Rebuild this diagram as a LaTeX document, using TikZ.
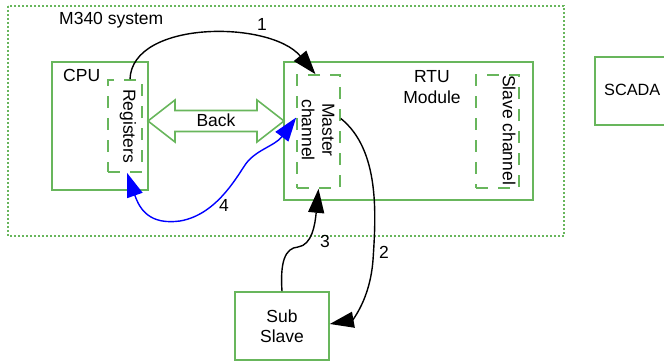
\documentclass[tikz,border=0pt]{standalone}
\usepackage{fontspec}
\setmainfont{Liberation Sans}
\usetikzlibrary{arrows.meta}
\definecolor{boxgreen}{RGB}{104,182,92}
\definecolor{flowblue}{RGB}{0,0,255}
\begin{document}
\begin{tikzpicture}[x=1pt,y=-1pt,
  font=\fontsize{17.5}{20.5}\selectfont,
  solidbox/.style={draw=boxgreen,line width=1.6pt},
  dashbox/.style={draw=boxgreen,line width=1.6pt,dash pattern=on 12pt off 10pt},
  bighead/.tip={Triangle[length=24pt,width=16pt]},
  flow/.style={line width=1.4pt,-bighead},
  lbl/.style={inner sep=0pt}]
\useasboundingbox (0,0) rectangle (664,361);

% system frame
\draw[boxgreen,line width=1.3pt,dash pattern=on 2pt off 2pt] (8,6) rectangle (564,236);
\node[lbl,anchor=west] (sys) at (59,20) {M340 system};

% CPU and its register area
\node[solidbox,minimum width=96pt,minimum height=128pt] (cpu) at (100,126) {};
\node[lbl,anchor=west] (cpul) at (63,75) {CPU};
\node[dashbox,minimum width=34pt,minimum height=92pt] (reg) at (125,126) {};
\node[lbl,rotate=-90] (regl) at (128,126) {Registers};

% RTU module and its channels
\node[solidbox,minimum width=249pt,minimum height=138pt] (rtu) at (408.5,131) {};
\node[lbl,align=center] (rtul) at (432,87) {RTU\\Module};
\node[dashbox,minimum width=43pt,minimum height=113pt] (mc) at (318.5,131.5) {};
\node[lbl,rotate=-90,align=center] (mcl) at (318,130) {Master\\channel};
\node[dashbox,minimum width=43pt,minimum height=113pt] (sc) at (497.5,131.5) {};
\node[lbl,rotate=-90] (scl) at (509,130) {Slave channel};

% external devices
\node[solidbox,minimum width=80pt,minimum height=68pt] (scada) at (635,91) {};
\node[lbl,anchor=west,font=\fontsize{16.3}{19}\selectfont] (scadal) at (604,90) {SCADA};
\node[solidbox,minimum width=94pt,minimum height=68pt,align=center] (sub) at (282,326) {Sub\\Slave};

% backplane double arrow
\draw[boxgreen,line width=1.6pt] (148,121) -- (175,100) -- (175,110.5) -- (257,110.5) -- (257,100)
  -- (284,121) -- (257,142) -- (257,131.5) -- (175,131.5) -- (175,142) -- cycle;
\node[lbl] (back) at (216,120) {Back};

% message flow
\draw[flow] ([xshift=5pt]reg.north) .. controls (132,20) and (270,20) .. ([xshift=-3pt]mc.north);
\node[lbl] (n1) at (262,24) {1};
\draw[flow] ([yshift=13pt]mc.east) .. controls (380,150) and (376,215) .. (373,260)
  .. controls (370,300) and (352,320) .. ([yshift=2pt]sub.east);
\node[lbl] (n2) at (384,252) {2};
\draw[flow] (sub.north) .. controls (280,262) and (285,248) .. (298,247)
  .. controls (312,245) and (315,225) .. (mc.south);
\node[lbl] (n3) at (325,241) {3};
\draw[flow,flowblue,bighead-bighead]
  ([xshift=2pt]reg.south) .. controls (140,210) and (150,225) .. (180,221)
  .. controls (215,215) and (235,180) .. (245,165)
  .. controls (255,150) and (275,146) .. ([yshift=14pt]mc.west);
\node[lbl] (n4) at (224,205) {4};
\end{tikzpicture}
\end{document}
